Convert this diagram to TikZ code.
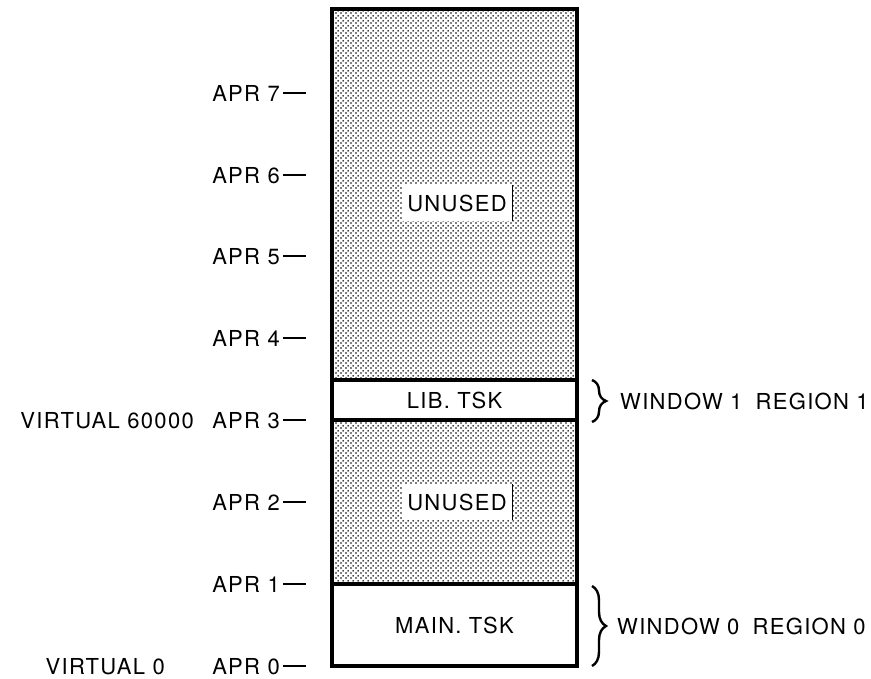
\documentclass[tikz,border=0pt]{standalone}
\usepackage{fontspec}
\setmainfont{TeX Gyre Heros}[LetterSpace=6]
\usetikzlibrary{patterns.meta,decorations.pathreplacing}

\tikzdeclarepattern{
  name=stipple,
  type=uncolored,
  bounding box={(0pt,0pt) and (5pt,5pt)},
  tile size={(5pt,5pt)},
  code={\fill (1.25pt,1.25pt) circle (1.05pt); \fill (3.75pt,3.75pt) circle (1.05pt);}
}

\tikzset{
  lbl/.style={anchor=east, inner sep=0pt, text depth=0pt},
  tick/.style={line width=2pt, shorten <=3pt},
  frame/.style={draw, line width=3.5pt},
  taskbox/.style={frame, fill=white, minimum width=245pt, inner sep=0pt},
  shade/.style={pattern=stipple, pattern color=black},
  patch/.style={fill=white, inner sep=0pt, minimum width=111pt, minimum height=36pt},
  bracebig/.style={decorate, decoration={brace, amplitude=14pt}, line width=2.4pt},
  wtext/.style={anchor=west, inner sep=0pt, text depth=0pt}
}

\begin{document}
\begin{tikzpicture}[x=1pt, y=-1pt, font=\fontsize{22}{24}\selectfont]
\useasboundingbox (0,0) rectangle (871,679);

% shaded unused areas
\fill[shade] (332,9) rectangle (577,380);
\fill[shade] (332,420) rectangle (577,584);

% task boxes
\node[taskbox, minimum height=40pt] (lib) at (454.5,400) {LIB. TSK};
\node[taskbox, minimum height=82pt] (main) at (454.5,625) {MAIN. TSK};

% outer frame
\node[frame, minimum width=245pt, minimum height=657pt, inner sep=0pt] (mem) at (454.5,337.5) {};

% unused labels
\node[patch] (u1) at (457,203) {UNUSED};
\draw[line width=1.3pt] (u1.north east) -- (u1.south east);
\node[patch] (u2) at (457,502) {UNUSED};
\draw[line width=1.3pt] (u2.north east) -- (u2.south east);

% APR labels and ticks
\foreach \k/\y in {0/666,1/584,2/502,3/420,4/338,5/256,6/175,7/93}{
  \node[lbl] (a\k) at (280,\y) {APR \k};
  \coordinate (t\k) at (306,\y);
  \draw[tick] (a\k.east) -- (t\k);
}
\node[lbl] (v3) at (194,420) {VIRTUAL 60000};
\node[lbl] (v0) at (165,666) {VIRTUAL 0};

% braces and window labels
\coordinate (b1t) at (592,380);
\coordinate (b1b) at (592,422);
\draw[bracebig] (b1t) -- (b1b);
\node[wtext] (w1) at (620,401) {WINDOW 1\hspace{0.6em}REGION 1};

\coordinate (b0t) at (592,586);
\coordinate (b0b) at (592,666);
\draw[bracebig] (b0t) -- (b0b);
\node[wtext] (w0) at (617,626) {WINDOW 0\hspace{0.6em}REGION 0};
\end{tikzpicture}
\end{document}
